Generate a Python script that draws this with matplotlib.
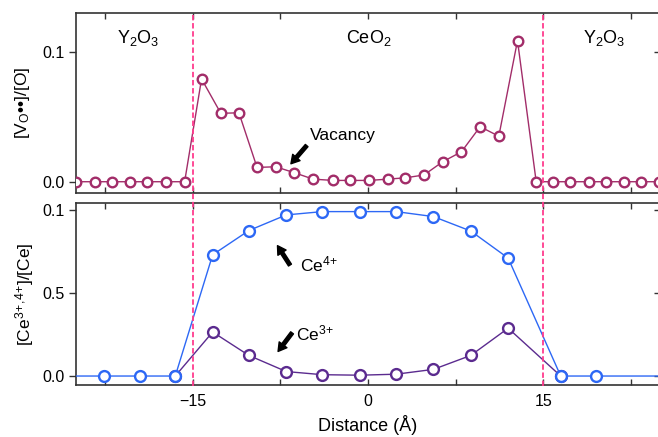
import matplotlib
matplotlib.use("Agg")
import matplotlib.pyplot as plt
from matplotlib.lines import Line2D
from matplotlib.transforms import blended_transform_factory

plt.rcParams['font.family'] = ['Liberation Sans', 'DejaVu Sans']
plt.rcParams['mathtext.fontset'] = 'custom'
plt.rcParams['mathtext.rm'] = 'Liberation Sans'
plt.rcParams['mathtext.it'] = 'Liberation Sans:italic'
plt.rcParams['mathtext.bf'] = 'Liberation Sans:bold'

# ---------------- data ----------------
vac_x = [-25.0, -23.4, -21.9, -20.4, -18.9, -17.3, -15.7, -14.25, -12.6, -11.05, -9.5, -7.9,
         -6.3, -4.7, -3.0, -1.5, 0.1, 1.7, 3.2, 4.8, 6.4, 8.0, 9.6, 11.2, 12.8, 14.4,
         15.8, 17.3, 18.9, 20.4, 21.9, 23.4, 24.9]
vac_y = [0, 0, 0, 0, 0, 0, 0, 0.079, 0.0526, 0.053, 0.011, 0.0115,
         0.0069, 0.002, 0.001, 0.001, 0.001, 0.002, 0.003, 0.0052, 0.0154, 0.023, 0.0423, 0.035, 0.1085, 0,
         0, 0, 0, 0, 0, 0, 0]

ce4_x = [-25.8, -22.6, -19.5, -16.5, -13.3, -10.2, -7.0, -3.9, -0.7, 2.4, 5.6, 8.8, 12.0, 16.5, 19.5, 25.8]
ce4_y = [0, 0, 0, 0, 0.73, 0.876, 0.97, 0.99, 0.99, 0.99, 0.96, 0.873, 0.71, 0, 0, 0]

ce3_x = [-16.5, -13.3, -10.2, -7.0, -3.9, -0.7, 2.4, 5.6, 8.8, 12.0, 16.5]
ce3_y = [0, 0.265, 0.124, 0.027, 0.008, 0.005, 0.011, 0.04, 0.124, 0.288, 0]

interfaces = [-15, 15]
x_ticks = [-22.5, -15, -7.5, 0, 7.5, 15, 22.5]
x_ticklabels = ['', '\u221215', '', '0', '', '15', '']
top_yticks = [0.0, 0.1]
top_yticklabels = ['0.0', '0.1']
bot_yticks = [0.0, 0.5, 1.0]
bot_yticklabels = ['0.0', '0.5', '0.1']
regions = [(-19.7, r'Y$_2$O$_3$'), (0.1, r'CeO$_2$'), (20.2, r'Y$_2$O$_3$')]

C_VAC = '#a22d69'
C_CE4 = '#2d68f5'
C_CE3 = '#5b2b8f'
C_DASH = '#ff3b8d'
C_SPINE = '#333333'

W, H = 658, 437
fig = plt.figure(figsize=(W / 100, H / 100), dpi=100)

def fx(px):
    return px / W

def fy(py):
    return 1 - py / H

ax1 = fig.add_axes([fx(76), fy(193.3), fx(660) - fx(76), fy(13.3) - fy(193.3)])
ax2 = fig.add_axes([fx(76), fy(384.5), fx(660) - fx(76), fy(203.3) - fy(384.5)])

# top panel
ax1.plot(vac_x, vac_y, color=C_VAC, lw=1.0, marker='o', ms=6.9, mew=1.7,
         mfc='white', mec=C_VAC, zorder=3)
ax1.set_xlim(-25, 25)
ax1.set_ylim(-0.0089, 0.1295)

# bottom panel
ax2.plot(ce3_x, ce3_y, color=C_CE3, lw=1.0, marker='o', ms=7.8, mew=1.7,
         mfc='white', mec=C_CE3, zorder=3)
ax2.plot(ce4_x, ce4_y, color=C_CE4, lw=1.0, marker='o', ms=7.8, mew=1.7,
         mfc='white', mec=C_CE4, zorder=4)
ax2.set_xlim(-25, 25)
ax2.set_ylim(-0.051, 1.040)

for ax, yt, ytl in [(ax1, top_yticks, top_yticklabels), (ax2, bot_yticks, bot_yticklabels)]:
    for s in ax.spines.values():
        s.set_color(C_SPINE)
        s.set_linewidth(1.2)
    ax.set_xticks(x_ticks)
    ax.set_yticks(yt)
    ax.set_yticklabels(ytl)
    ax.tick_params(axis='x', direction='in', top=True, bottom=True, length=4,
                   width=1.0, color=C_SPINE, labelsize=11.5, pad=7)
    ax.tick_params(axis='y', direction='out', left=True, right=False, length=5,
                   width=1.0, color=C_SPINE, labelsize=11.5, pad=3)
    sec = ax.secondary_yaxis('right')
    sec.set_yticks(yt)
    sec.tick_params(direction='in', length=4, width=1.0, color=C_SPINE, labelright=False)
    sec.spines['right'].set_color(C_SPINE)
    sec.spines['right'].set_linewidth(1.2)

ax1.set_xticklabels([''] * len(x_ticks))
ax2.set_xticklabels(x_ticklabels)

ax1.set_ylabel('[V$_\\mathrm{O}$\u2022\u2022]/[O]', fontsize=12.5, labelpad=8)
ax2.set_ylabel('[Ce$^{3}$$^{+}$$^{,}$$^{4}$$^{+}$]/[Ce]', fontsize=12.5, labelpad=5)
ax2.set_xlabel('Distance (\u00c5)', fontsize=13, labelpad=4.5)

# region labels
for xr, lab in regions:
    ax1.text(xr, 0.1065, lab, ha='center', va='baseline', fontsize=13)

# annotations
arrow_kw = dict(arrowstyle='simple,head_length=0.6,head_width=0.7,tail_width=0.25',
                color='black', shrinkA=0, shrinkB=0)
ax1.annotate('', xy=(-6.6, 0.0138), xytext=(-5.25, 0.0278), arrowprops=arrow_kw)
ax1.text(-5.0, 0.0352, 'Vacancy', ha='left', va='center', fontsize=12.5)

ax2.annotate('', xy=(-7.75, 0.785), xytext=(-6.68, 0.668), arrowprops=arrow_kw)
ax2.text(-5.85, 0.627, 'Ce$^{4}$$^{+}$', ha='left', va='baseline', fontsize=12.5)
ax2.annotate('', xy=(-7.7, 0.148), xytext=(-6.5, 0.26), arrowprops=arrow_kw)
ax2.text(-6.15, 0.215, 'Ce$^{3}$$^{+}$', ha='left', va='baseline', fontsize=12.5)

# interface dashed lines spanning both panels
tr = blended_transform_factory(ax2.transData, fig.transFigure)
for xi in interfaces:
    fig.add_artist(Line2D([xi, xi], [fy(385.5), fy(12.5)], transform=tr, color=C_DASH,
                          lw=1.3, linestyle=(0, (3.0, 1.5)), zorder=10))

fig.savefig('out.png', dpi=100)
